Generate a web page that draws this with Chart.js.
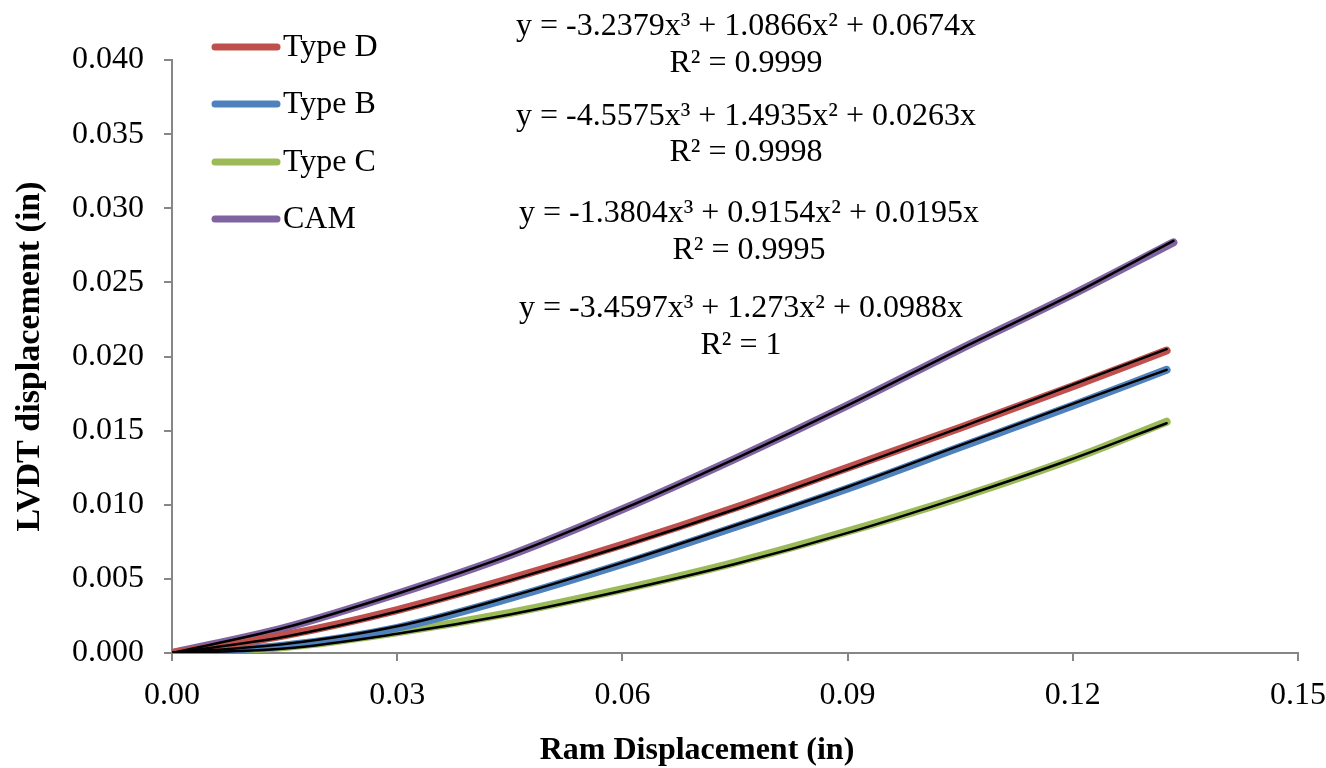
<!DOCTYPE html>
<html>
<head>
<meta charset="utf-8">
<script src="https://cdn.jsdelivr.net/npm/chart.js@4.4.0/dist/chart.umd.min.js"></script>
<style>
  body { margin: 0; background: #fff; }
  #wrap { width: 1326px; height: 768px; position: relative; }
</style>
</head>
<body>
<div id="wrap"><canvas id="myChart"></canvas></div>
<script>
// values (inches)
const ramDisp = [0, 0.015, 0.03, 0.045, 0.06, 0.075, 0.09, 0.105, 0.12, 0.1325]
const ramDispCam = [0, 0.015, 0.03, 0.045, 0.06, 0.075, 0.09, 0.105, 0.12, 0.1334]

const typeD = [0, 0.0012, 0.0029, 0.0050, 0.0073, 0.0098, 0.0125, 0.0152, 0.0180, 0.0204]
const typeB = [0, 0.0005, 0.0017, 0.0037, 0.0060, 0.0085, 0.0111, 0.0139, 0.0167, 0.0191]
const typeC = [0, 0.0004, 0.0014, 0.0027, 0.0043, 0.0061, 0.0082, 0.0105, 0.0131, 0.0156]
const cam = [0, 0.0017, 0.0040, 0.0066, 0.0097, 0.0131, 0.0167, 0.0205, 0.0242, 0.0277]

// black poly trendlines
const trendD = [0, 0.0011, 0.0028, 0.0049, 0.0072, 0.0097, 0.0124, 0.0152, 0.0181, 0.0205]
const trendB = [0, 0.0006, 0.0018, 0.0038, 0.0061, 0.0086, 0.0112, 0.0140, 0.0168, 0.0191]
const trendC = [0, 0.0003, 0.0013, 0.0026, 0.0042, 0.0060, 0.0081, 0.0105, 0.0131, 0.0155]
const trendCam = [0, 0.0017, 0.0040, 0.0066, 0.0097, 0.0131, 0.0167, 0.0205, 0.0242, 0.0278]

const seriesNames = ["Type D", "Type B", "Type C", "CAM"]
const seriesColors = ["#C0504D", "#4F81BD", "#9BBB59", "#8064A2"]

const xTicks = [0, 0.03, 0.06, 0.09, 0.12, 0.15]
const yTicks = [0, 0.005, 0.010, 0.015, 0.020, 0.025, 0.030, 0.035, 0.040]

const equations = [
    ["y = -3.2379x³ + 1.0866x² + 0.0674x", "R² = 0.9999"],
    ["y = -4.5575x³ + 1.4935x² + 0.0263x", "R² = 0.9998"],
    ["y = -1.3804x³ + 0.9154x² + 0.0195x", "R² = 0.9995"],
    ["y = -3.4597x³ + 1.273x² + 0.0988x", "R² = 1"],
]

const FONT = "'Liberation Serif', 'Times New Roman', serif"
const AXIS_GRAY = "#868686"

function pts(xs, ys) {
    return ys.map((y, i) => ({ x: xs[i], y: y }))
}

function dataLine(label, xs, ys, color) {
    return {
        label: label,
        data: pts(xs, ys),
        borderColor: color,
        backgroundColor: color,
        borderWidth: 8,
        borderCapStyle: "round",
        borderJoinStyle: "round",
        pointRadius: 0,
        showLine: true,
        cubicInterpolationMode: "monotone",
        order: 2,
    }
}

function trendLine(xs, ys) {
    return {
        label: "trend",
        data: pts(xs, ys),
        borderColor: "#000000",
        borderWidth: 2.5,
        borderCapStyle: "round",
        pointRadius: 0,
        showLine: true,
        cubicInterpolationMode: "monotone",
        order: 1,
    }
}

// legend, trendline equations and x title, drawn on top
const overlay = {
    id: "overlay",
    afterDraw(chart) {
        const c = chart.ctx
        c.save()
        c.font = "32px " + FONT
        c.fillStyle = "#000"
        c.textBaseline = "middle"

        const rows = [47, 104, 162, 219]
        seriesNames.forEach((name, i) => {
            c.strokeStyle = seriesColors[i]
            c.lineWidth = 7
            c.lineCap = "round"
            c.beginPath()
            c.moveTo(215, rows[i])
            c.lineTo(277, rows[i])
            c.stroke()
            c.textAlign = "left"
            c.fillText(name, 283, rows[i] + 1)
        })

        const eqY = [[27, 64], [117, 153], [214, 251], [309, 346]]
        const eqX = [746, 746, 749, 741]
        c.textAlign = "center"
        equations.forEach((eq, i) => {
            c.fillText(eq[0], eqX[i], eqY[i][0])
            c.fillText(eq[1], eqX[i], eqY[i][1])
        })

        c.font = "bold 32px " + FONT
        c.fillText("Ram Displacement (in)", 697, 751)
        c.restore()
    }
}

const ctx = document.getElementById("myChart").getContext("2d")

const myChart = new Chart(ctx, {
    type: "scatter",
    data: {
        datasets: [
            dataLine(seriesNames[0], ramDisp, typeD, seriesColors[0]),
            dataLine(seriesNames[1], ramDisp, typeB, seriesColors[1]),
            dataLine(seriesNames[2], ramDisp, typeC, seriesColors[2]),
            dataLine(seriesNames[3], ramDispCam, cam, seriesColors[3]),
            trendLine(ramDisp, trendD),
            trendLine(ramDisp, trendB),
            trendLine(ramDisp, trendC),
            trendLine(ramDispCam, trendCam),
        ],
    },
    options: {
        responsive: true,
        maintainAspectRatio: false,
        animation: false,
        devicePixelRatio: 1,
        layout: { padding: { top: 60, right: 28, left: 0, bottom: 0 } },
        plugins: {
            legend: { display: false },
            tooltip: { enabled: false },
        },
        scales: {
            x: {
                type: "linear",
                min: 0,
                max: 0.15,
                afterBuildTicks: (s) => { s.ticks = xTicks.map(v => ({ value: v })) },
                afterFit: (s) => { s.height = 115; s.paddingRight = 0; s.paddingLeft = 0 },
                grid: { drawOnChartArea: false, drawTicks: true, tickLength: 8, color: AXIS_GRAY, lineWidth: 2 },
                border: { color: AXIS_GRAY, width: 2 },
                ticks: {
                    color: "#000",
                    padding: 15,
                    maxRotation: 0,
                    font: { family: FONT, size: 32 },
                    callback: (v) => Number(v).toFixed(2),
                },
                title: { display: false },
            },
            y: {
                type: "linear",
                min: 0,
                max: 0.04,
                afterBuildTicks: (s) => { s.ticks = yTicks.map(v => ({ value: v })) },
                afterFit: (s) => { s.width = 172; s.paddingTop = 0; s.paddingBottom = 0 },
                grid: { drawOnChartArea: false, drawTicks: true, tickLength: 8, color: AXIS_GRAY, lineWidth: 2 },
                border: { color: AXIS_GRAY, width: 2 },
                ticks: {
                    color: "#000",
                    padding: 20,
                    font: { family: FONT, size: 32 },
                    callback: (v) => Number(v).toFixed(3),
                },
                title: {
                    display: true,
                    text: "LVDT displacement (in)",
                    color: "#000",
                    font: { family: FONT, size: 34, weight: "bold" },
                    padding: { top: 10, bottom: 0 },
                },
            },
        },
    },
    plugins: [overlay],
});
</script>
</body>
</html>
